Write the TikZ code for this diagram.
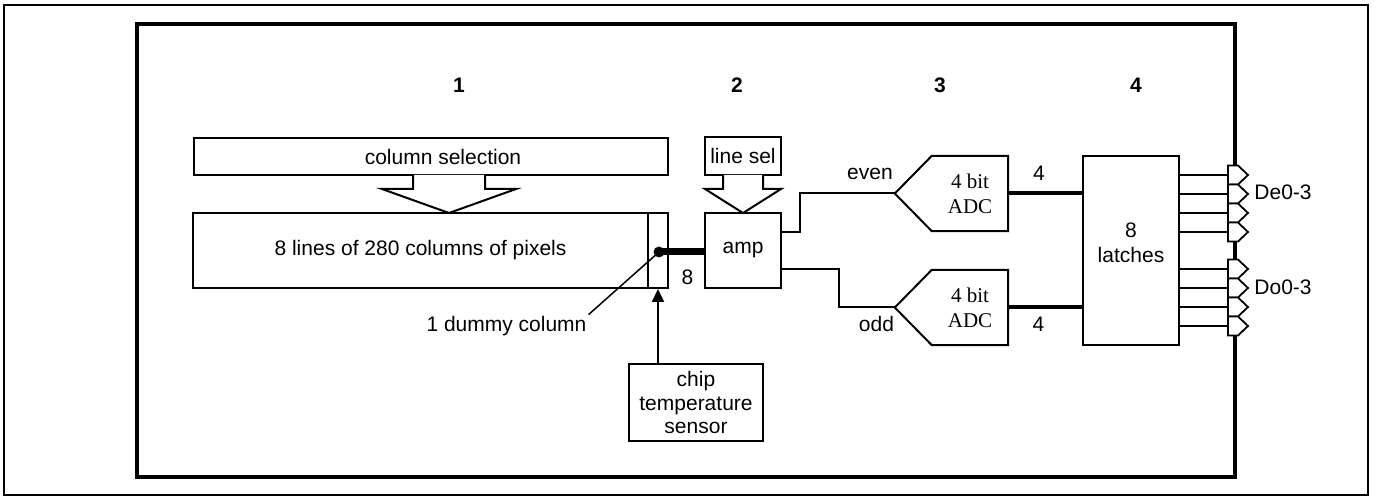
\documentclass[tikz,border=0pt]{standalone}
\usepackage{fontspec}
\setmainfont{Liberation Sans}
\newfontfamily\adcfont{Liberation Serif}
\usetikzlibrary{arrows.meta,calc}
\tikzset{
  blk/.style={draw, line width=2pt, inner sep=2pt, align=center},
  wire/.style={line width=2pt, line join=miter},
  bus/.style={line width=4pt},
  port/.style={draw, line width=1.8pt, fill=white, line join=miter},
}

\begin{document}
\begin{tikzpicture}[x=1pt,y=-1pt,font=\fontsize{21}{25}\selectfont,inner sep=2pt]
      \useasboundingbox (0,0) rectangle (1377,497);
      \draw[line width=2pt] (4,5) rectangle (1368,495);
      \draw[line width=3.5pt] (137,24) rectangle (1235,477);

      % stage numbers
      \foreach \n/\x in {1/459,2/737,3/940,4/1136}
        \node[font=\fontsize{21}{25}\selectfont\bfseries] (stage\n) at (\x,85) {\n};

      % pixel array
      \node[blk, minimum width=474pt, minimum height=37pt] (colsel) at (431,156.5) {};
      \node (colseltxt) at (443,156.5) {column selection};
      \node[blk, minimum width=455pt, minimum height=75pt] (pix) at (420.5,250.5) {8 lines of 280 columns of pixels};
      \node[blk, minimum width=20pt, minimum height=75pt] (dummy) at (658,250.5) {};
      \draw[wire, fill=white] (413,175) |- (382,189) -- (449,213) -- (516,189) -| (485,175);

      % amplifier
      \node[blk, minimum width=76pt, minimum height=38pt] (linesel) at (743,156) {line sel};
      \node[blk, minimum width=76pt, minimum height=75pt] (amp) at (743,250.5) {amp};
      \draw[wire, fill=white] (723,175) |- (705,189) -- (743,213) -- (781,189) -| (763,175);

      \coordinate (dot) at (659,252);
      \draw[line width=7pt] (dot) -- (amp.west |- dot);
      \fill (dot) circle (5.5pt);
      \node (n8) at (687.5,277) {8};
      \node (dumlbl) at (506.5,326.5) {1 dummy column};
      \draw[line width=1.5pt] (dot) -- (dumlbl.north east);

      \node[blk, minimum width=134pt, minimum height=77pt, font=\fontsize{21}{23.5}\selectfont] (sensor) at (696,402.5) {chip\\temperature\\sensor};
      \draw[wire, -{Triangle[length=13pt,width=12pt]}] (sensor.north -| dummy.south) -- (dummy.south);

      % converters
      \node[minimum width=76pt, minimum height=75pt, align=center, font=\fontsize{21}{25}\adcfont] (adce) at (970,193.5) {4 bit\\ADC};
      \node[minimum width=76pt, minimum height=75pt, align=center, font=\fontsize{21}{25}\adcfont] (adco) at (970,307.5) {4 bit\\ADC};
      \foreach \a in {adce,adco} {
        \coordinate (\a-in) at ($(\a.west)+(-37,0)$);
        \draw[wire] (\a.north west) -- (\a.north east) -- (\a.south east) -- (\a.south west) -- (\a-in) -- cycle;
      }
      \draw[wire] ([yshift=18.5pt]amp.east) -- ++(18,0) |- (adce-in);
      \draw[wire] ([yshift=-18.5pt]amp.east) -- ++(57,0) |- (adco-in);
      \node (even) at (870,174) {even};
      \node (odd) at (876.5,324) {odd};

      % latches and outputs
      \node[blk, minimum width=96pt, minimum height=189pt] (latches) at (1131,250.5) {};
      \node[align=center] (latchtxt) at (1131,243) {8\\latches};
      \draw[bus] (adce.east) -- (adce.east -| latches.west);
      \draw[bus] (adco.east) -- (adco.east -| latches.west);
      \node (n4e) at (1039,173.5) {4};
      \node (n4o) at (1038.5,324) {4};

      \foreach \y in {175,194,213,232,269,288,307,326} {
        \draw[wire] (latches.east |- 0,\y) -- (1228,\y);
        \draw[port] (1228,\y-9.5) -- (1238,\y-9.5) -- (1248,\y) -- (1238,\y+9.5) -- (1228,\y+9.5) -- cycle;
      }
      \node (de) at (1283,192.5) {De0-3};
      \node (do) at (1283,287.5) {Do0-3};
    \end{tikzpicture}
\end{document}
